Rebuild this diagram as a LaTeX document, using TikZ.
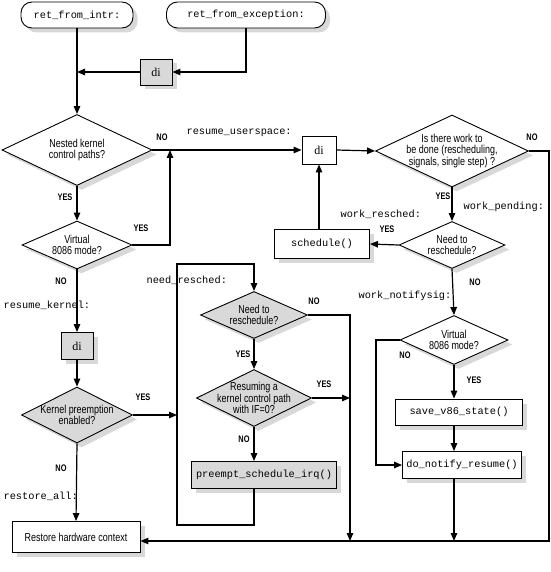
\documentclass[tikz,border=0pt]{standalone}
\usepackage{fontspec}
\setmainfont{Liberation Sans}[FakeStretch=0.78]
\setmonofont{Liberation Mono}
\newfontfamily\diserif{Liberation Serif}
\usetikzlibrary{shapes.geometric,shadows,arrows.meta}
\begin{document}
\begin{tikzpicture}[x=1pt,y=-1pt,line width=1.2pt,
    arr/.style={-{Triangle[length=8pt,width=6.5pt]}},
    shade/.style={drop shadow={shadow xshift=4.5pt,shadow yshift=-4.5pt,fill=black!30}},
    cond/.style={font=\fontsize{11.5}{11.5}\selectfont},
    mono/.style={font=\ttfamily\fontsize{10.3}{12}\selectfont},
    yn/.style={font=\bfseries\fontsize{9.5}{10}\selectfont},
    ditext/.style={font=\diserif\fontsize{12}{12}\selectfont},
    diam/.style={diamond,draw,line width=0.9pt,fill=white,aspect=2,inner sep=-10pt,align=center,cond,shade},
    gdiam/.style={diam,fill=black!15},
    box/.style={rectangle,draw,line width=0.9pt,fill=white,inner sep=0pt,shade},
    gbox/.style={box,fill=black!15},
    entry/.style={rectangle,rounded corners=11pt,draw,line width=0.9pt,fill=white,inner sep=0pt,mono,shade}]
    \useasboundingbox (0,0) rectangle (550,572);

    \node[entry,minimum width=112pt,minimum height=26pt] (intr) at (77,15) {ret\_from\_intr:};
    \node[entry,minimum width=159pt,minimum height=26pt] (exc) at (246,15) {ret\_from\_exception:};
    \node[gbox,minimum width=32pt,minimum height=26pt,ditext] (di1) at (156,72) {di};
    \node[diam,minimum width=150pt,minimum height=71pt] (nested) at (77,150) {Nested kernel\\control paths?};
    \node[diam,minimum width=110pt,minimum height=48pt] (virt) at (77,245) {Virtual\\8086 mode?};
    \node[gbox,minimum width=32pt,minimum height=27pt,ditext] (di3) at (77,346) {di};
    \node[gdiam,minimum width=111pt,minimum height=56pt] (kern) at (77,415) {Kernel preemption\\enabled?};
    \node[box,minimum width=128pt,minimum height=31pt,cond] (restore) at (76,537) {Restore hardware context};

    \node[gdiam,minimum width=107pt,minimum height=47pt] (need1) at (254,315) {Need to\\reschedule?};
    \node[gdiam,minimum width=115pt,minimum height=57pt] (resume) at (254,398) {Resuming a\\kernel control path\\with IF=0?};
    \node[gbox,minimum width=145pt,minimum height=27pt,mono] (preempt) at (264,475) {preempt\_schedule\_irq()};

    \node[rectangle,draw,line width=0.9pt,fill=white,minimum width=34pt,minimum height=28pt,ditext] (di2) at (319,150) {di};
    \node[box,minimum width=95pt,minimum height=29pt,mono] (sched) at (322,244) {schedule()};
    \node[diam,minimum width=153pt,minimum height=72pt] (work) at (452,151) {Is there work to\\be done (rescheduling,\\signals, single step) ?};
    \node[diam,minimum width=106pt,minimum height=47pt] (need2) at (452,245) {Need to\\reschedule?};
    \node[diam,minimum width=108pt,minimum height=49pt] (virt2) at (454,340) {Virtual\\8086 mode?};
    \node[box,minimum width=127pt,minimum height=26pt,mono] (save) at (459,412) {save\_v86\_state()};
    \node[box,minimum width=119pt,minimum height=27pt,mono] (notify) at (462,465) {do\_notify\_resume()};

    \coordinate (vup) at (170,150);
    \coordinate (lp1) at (177,525);
    \coordinate (lp2) at (177,264);
    \coordinate (nr) at (350,541);
    \coordinate (br) at (549,541);
    \coordinate (nl) at (376,400);

    \draw[arr] (intr) -- (nested);
    \draw[arr] (exc.south) |- (di1.east);
    \draw[arr] (di1.west) -- (di1.west -| intr.south);
    \draw[arr] (nested.east) -- (di2.west);
    \draw[arr] (nested.south) -- (virt.north);
    \draw[arr] (virt.east) -| (vup);
    \draw[arr] (virt.south) -- (di3.north);
    \draw[arr] (di3.south) -- (kern.north);
    \draw[arr] (kern.south) -- (restore.north);
    \draw[arr] (kern.east) -- (kern.east -| lp1);
    \draw[arr] (preempt.south -| need1.south) |- (lp1) -- (lp2) -| (need1.north);
    \draw[arr] (need1.south) -- (resume.north);
    \draw[arr] (resume.south) -- (resume.south |- preempt.north);
    \draw[arr] (need1.east) -| (nr);
    \draw[arr] (resume.east) -- (resume.east -| nr);
    \draw[arr] (di2.east) -- (work.west);
    \draw[arr] (work.east) -| (br) -- (restore.east |- br);
    \draw[arr] (work.south) -- (need2.north);
    \draw[arr] (need2.west) -- (sched.east);
    \draw[arr] (di2.south |- sched.north) -- (di2.south);
    \draw[arr] (need2.south) -- (virt2.north);
    \draw[arr] (virt2.west) -| (nl) |- (notify.west);
    \draw[arr] (virt2.south) -- (virt2.south |- save.north);
    \draw[arr] (virt2.south |- save.south) -- (virt2.south |- notify.north);
    \draw[arr] (virt2.south |- notify.south) -- (virt2.south |- br);

    \node[yn] (nestedno) at (162,137) {NO};
    \node[yn] (nestedyes) at (65,197) {YES};
    \node[yn] (virtyes) at (141,228) {YES};
    \node[yn] (virtno) at (61,281) {NO};
    \node[yn] (kernyes) at (143,397) {YES};
    \node[yn] (kernno) at (61,468) {NO};
    \node[yn] (need1no) at (314,301) {NO};
    \node[yn] (need1yes) at (243,354) {YES};
    \node[yn] (resumeyes) at (324,384) {YES};
    \node[yn] (resumeno) at (244,439) {NO};
    \node[yn] (workno) at (532,137) {NO};
    \node[yn] (workyes) at (443,196) {YES};
    \node[yn] (need2yes) at (387,229) {YES};
    \node[yn] (need2no) at (475,282) {NO};
    \node[yn] (virt2no) at (405,355) {NO};
    \node[yn] (virt2yes) at (474,380) {YES};

    \node[mono,anchor=west,inner sep=0pt] (userspace) at (186,133) {resume\_userspace:};
    \node[mono,anchor=west,inner sep=0pt] (kernel) at (3,305) {resume\_kernel:};
    \node[mono,anchor=west,inner sep=0pt] (resched) at (146,280) {need\_resched:};
    \node[mono,anchor=west,inner sep=0pt] (restall) at (3,496) {restore\_all:};
    \node[mono,anchor=west,inner sep=0pt] (pending) at (463,207) {work\_pending:};
    \node[mono,anchor=west,inner sep=0pt] (wresched) at (340,214) {work\_resched:};
    \node[mono,anchor=west,inner sep=0pt] (notifysig) at (358,296) {work\_notifysig:};
\end{tikzpicture}
\end{document}
